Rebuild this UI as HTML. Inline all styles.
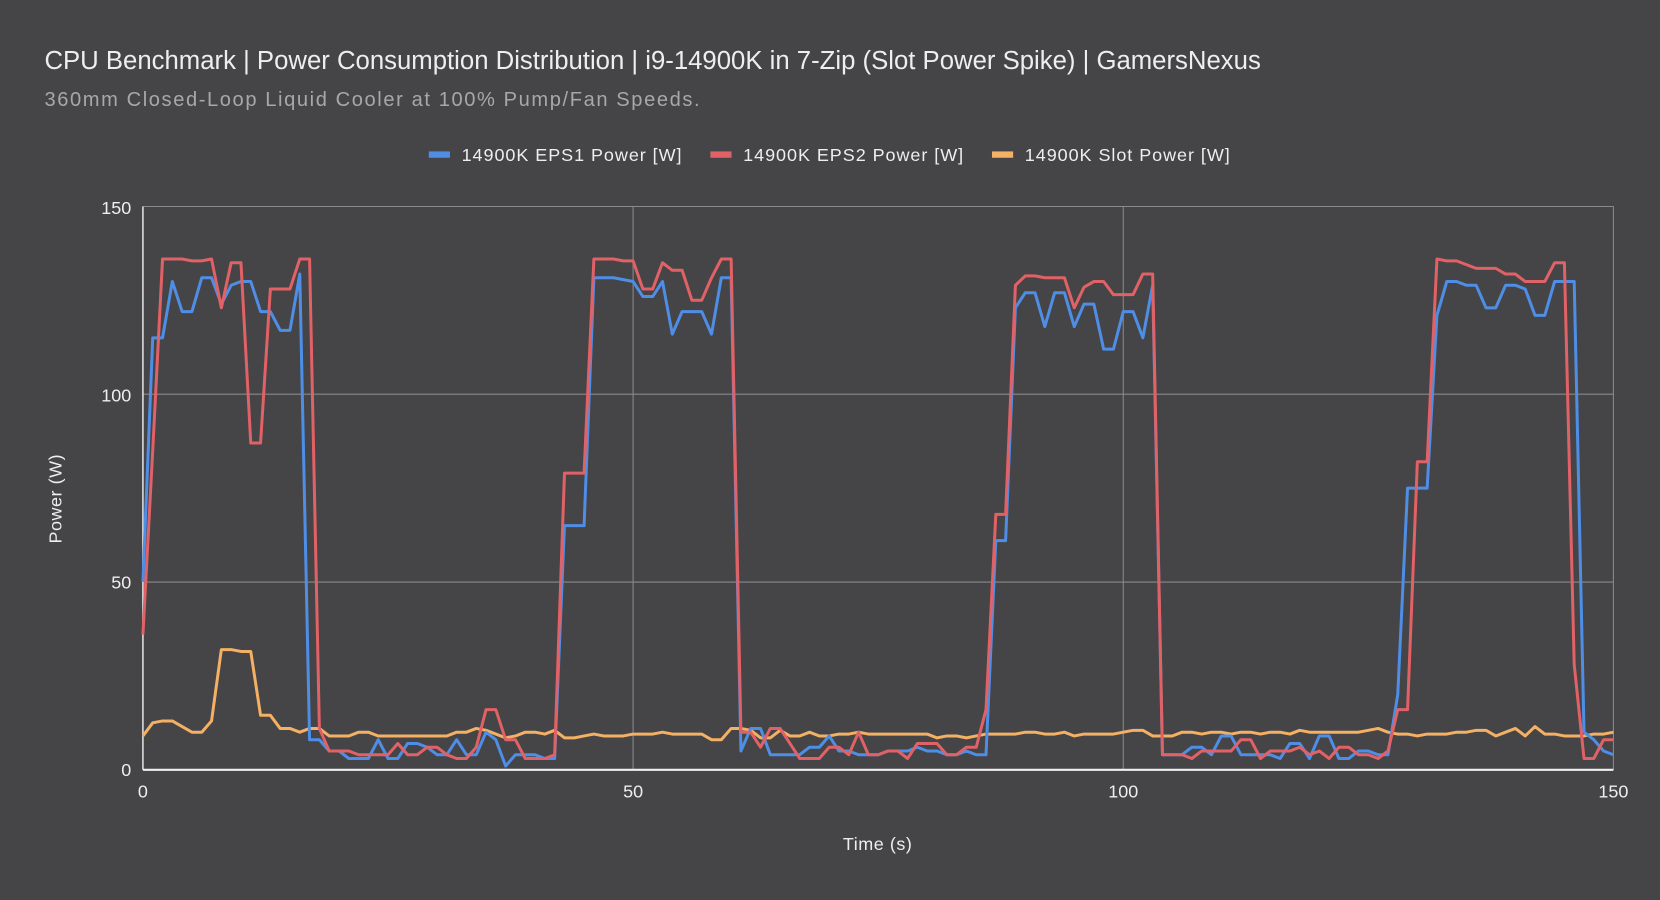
<!DOCTYPE html>
<html><head><meta charset="utf-8"><style>
html,body{margin:0;padding:0;background:#454446;}
svg{display:block;font-family:"Liberation Sans",sans-serif;}
</style></head><body>
<svg width="1660" height="900" viewBox="0 0 1568 850" preserveAspectRatio="none">
<rect width="1568" height="850" fill="#454446"/>
<text x="42" y="65" font-size="24.3" fill="#eeeeee">CPU Benchmark | Power Consumption Distribution | i9-14900K in 7-Zip (Slot Power Spike) | GamersNexus</text>
<text x="42" y="100" font-size="19" letter-spacing="1.5" fill="#a8a8a8">360mm Closed-Loop Liquid Cooler at 100% Pump/Fan Speeds.</text>
<g font-size="17" fill="#eeeeee" letter-spacing="0.9">
<rect x="405" y="143" width="20" height="6" fill="#4f8ee6"/><text x="436" y="152">14900K EPS1 Power [W]</text>
<rect x="671" y="143" width="20" height="6" fill="#e06267"/><text x="702" y="152">14900K EPS2 Power [W]</text>
<rect x="937" y="143" width="20" height="6" fill="#f4b064"/><text x="968" y="152">14900K Slot Power [W]</text>
</g>
<g stroke="#8a8a8a" stroke-width="1">
<line x1="135" y1="195" x2="1524" y2="195"/>
<line x1="135" y1="372.3" x2="1524" y2="372.3"/>
<line x1="135" y1="549.7" x2="1524" y2="549.7"/>
<line x1="598" y1="195" x2="598" y2="727"/>
<line x1="1061" y1="195" x2="1061" y2="727"/>
<line x1="1524" y1="195" x2="1524" y2="727"/>
</g>
<line x1="135" y1="195" x2="135" y2="727" stroke="#dddddd" stroke-width="1.5"/>
<g font-size="17" fill="#eeeeee" text-anchor="end">
<text x="124" y="202">150</text><text x="124" y="379">100</text><text x="124" y="556">50</text><text x="124" y="733">0</text>
</g>
<g font-size="17" fill="#eeeeee" text-anchor="middle">
<text x="135" y="753">0</text><text x="598" y="753">50</text><text x="1061" y="753">100</text><text x="1524" y="753">150</text>
<text x="829" y="803" letter-spacing="0.5">Time (s)</text>
<text transform="translate(58,471) rotate(-90)" letter-spacing="0.5">Power (W)</text>
</g>
<g transform="translate(135,727) scale(9.26,-3.547)" fill="none" stroke-width="3" stroke-linejoin="round">
<polyline vector-effect="non-scaling-stroke" stroke="#f4b064" points="0,9 1,12.5 2,13 3,13 4,11.5 5,10 6,10 7,13 8,32 9,32 10,31.5 11,31.5 12,14.5 13,14.5 14,11 15,11 16,10 17,11 18,11 19,9 20,9 21,9 22,10 23,10 24,9 25,9 26,9 27,9 28,9 29,9 30,9 31,9 32,10 33,10 34,11 35,10.5 36,9.5 37,8.5 38,9 39,10 40,10 41,9.5 42,10.5 43,8.5 44,8.5 45,9 46,9.5 47,9 48,9 49,9 50,9.5 51,9.5 52,9.5 53,10 54,9.5 55,9.5 56,9.5 57,9.5 58,8 59,8 60,11 61,11 62,10.5 63,8.5 64,8.5 65,10.5 66,9 67,9 68,10 69,9 70,9 71,9.5 72,9.5 73,10 74,9.5 75,9.5 76,9.5 77,9.5 78,9.5 79,9.5 80,9.5 81,8.5 82,9 83,9 84,8.5 85,9 86,9.5 87,9.5 88,9.5 89,9.5 90,10 91,10 92,9.5 93,9.5 94,10 95,9 96,9.5 97,9.5 98,9.5 99,9.5 100,10 101,10.5 102,10.5 103,9 104,9 105,9 106,10 107,10 108,9.5 109,10 110,10 111,9.5 112,10 113,10 114,9.5 115,10 116,10 117,9.5 118,10.5 119,10 120,10 121,10 122,10 123,10 124,10 125,10.5 126,11 127,10 128,9.5 129,9.5 130,9 131,9.5 132,9.5 133,9.5 134,10 135,10 136,10.5 137,10.5 138,9 139,10 140,11 141,9 142,11.5 143,9.5 144,9.5 145,9 146,9 147,9 148,9.5 149,9.5 150,10"/>
<polyline vector-effect="non-scaling-stroke" stroke="#4f8ee6" points="0,50 1,115 2,115 3,130 4,122 5,122 6,131 7,131 8,124 9,129 10,130 11,130 12,122 13,122 14,117 15,117 16,132 17,8 18,8 19,5 20,5 21,3 22,3 23,3 24,8 25,3 26,3 27,7 28,7 29,6 30,4 31,4 32,8 33,4 34,4 35,10 36,8 37,1 38,4 39,4 40,4 41,3 42,3 43,65 44,65 45,65 46,131 47,131 48,131 49,130.5 50,130 51,126 52,126 53,130 54,116 55,122 56,122 57,122 58,116 59,131 60,131 61,5 62,11 63,11 64,4 65,4 66,4 67,4 68,6 69,6 70,9 71,5 72,5 73,4 74,4 75,4 76,5 77,5 78,5 79,6 80,5 81,5 82,4 83,4 84,5 85,4 86,4 87,61 88,61 89,123 90,127 91,127 92,118 93,127 94,127 95,118 96,124 97,124 98,112 99,112 100,122 101,122 102,115 103,129 104,4 105,4 106,4 107,6 108,6 109,4 110,9 111,9 112,4 113,4 114,4 115,4 116,3 117,7 118,7 119,3 120,9 121,9 122,3 123,3 124,5 125,5 126,4 127,4 128,20 129,75 130,75 131,75 132,121 133,130 134,130 135,129 136,129 137,123 138,123 139,129 140,129 141,128 142,121 143,121 144,130 145,130 146,130 147,10 148,8 149,5 150,4"/>
<polyline vector-effect="non-scaling-stroke" stroke="#e06267" points="0,36 1,85 2,136 3,136 4,136 5,135.5 6,135.5 7,136 8,123 9,135 10,135 11,87 12,87 13,128 14,128 15,128 16,136 17,136 18,11 19,5 20,5 21,5 22,4 23,4 24,4 25,4 26,7 27,4 28,4 29,6 30,6 31,4 32,3 33,3 34,6 35,16 36,16 37,8 38,8 39,3 40,3 41,3 42,4 43,79 44,79 45,79 46,136 47,136 48,136 49,135.5 50,135.5 51,128 52,128 53,135 54,133 55,133 56,125 57,125 58,131 59,136 60,136 61,10 62,10 63,6 64,11 65,11 66,7 67,3 68,3 69,3 70,6 71,6 72,4 73,10 74,4 75,4 76,5 77,5 78,3 79,7 80,7 81,7 82,4 83,4 84,6 85,6 86,16 87,68 88,68 89,129 90,131.5 91,131.5 92,131 93,131 94,131 95,123 96,128.5 97,130 98,130 99,126.5 100,126.5 101,126.5 102,132 103,132 104,4 105,4 106,4 107,3 108,5 109,5 110,5 111,5 112,8 113,8 114,3 115,5 116,5 117,5 118,6 119,4 120,5 121,3 122,6 123,6 124,4 125,4 126,3 127,5 128,16 129,16 130,82 131,82 132,136 133,135.5 134,135.5 135,134.5 136,133.5 137,133.5 138,133.5 139,132 140,132 141,130 142,130 143,130 144,135 145,135 146,28 147,3 148,3 149,8 150,8"/>
</g>
<line x1="135" y1="727" x2="1524" y2="727" stroke="#f0f0f0" stroke-width="2"/>
</svg>
</body></html>
